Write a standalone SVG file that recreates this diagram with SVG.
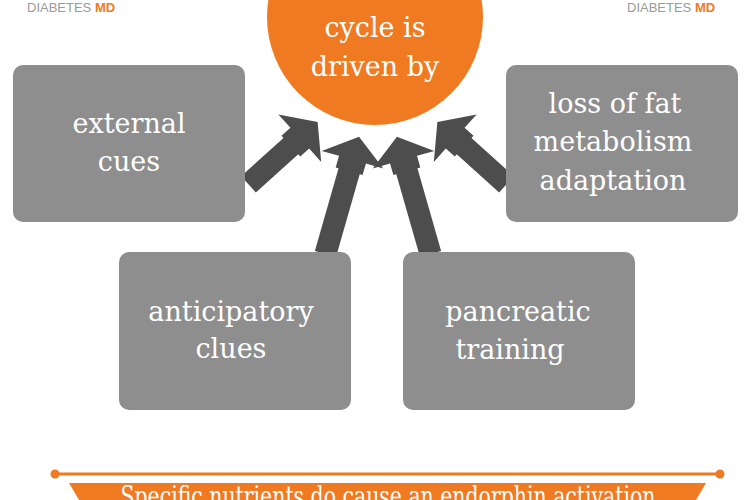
<svg xmlns="http://www.w3.org/2000/svg" width="748" height="500" viewBox="0 0 748 500">
<defs>
<style>
.box{fill:#8e8e8e}
.t{font-family:"DejaVu Serif","Liberation Serif",serif;font-size:27px;fill:#fff;text-anchor:middle}
.logo{font-family:"Liberation Sans",Arial,sans-serif;font-size:13px;fill:#9a9a9a}
.md{fill:#f07a22;font-weight:bold}
.arr{fill:#4d4d4d}
</style>
<polygon id="ah" points="-14,0 -14,-12 -32,-12 0,-36 32,-12 14,-12 14,0"/>
</defs>
<rect width="748" height="500" fill="#fff"/>
<text class="logo" x="27" y="12">DIABETES <tspan class="md">MD</tspan></text>
<text class="logo" x="627" y="12">DIABETES <tspan class="md">MD</tspan></text>
<g id="center">
<circle cx="375" cy="17" r="108" fill="#f07a22"/>
<text class="t" x="375" y="37" font-size="29">cycle is</text>
<text class="t" x="375" y="76" font-size="29">driven by</text>
</g>
<g id="connectors" class="arr">
<g transform="translate(250,183) rotate(48)"><rect x="-11" y="-58" width="22" height="60"/><use href="#ah" transform="translate(0,-55)"/></g>
<g transform="translate(326,252) rotate(16)"><rect x="-11" y="-86" width="22" height="88"/><use href="#ah" transform="translate(0,-84)"/></g>
<g transform="translate(430,252) rotate(-16)"><rect x="-11" y="-86" width="22" height="88"/><use href="#ah" transform="translate(0,-84)"/></g>
<g transform="translate(505,183) rotate(-48)"><rect x="-11" y="-58" width="22" height="60"/><use href="#ah" transform="translate(0,-55)"/></g>
</g>
<g id="external"><rect class="box" x="13" y="65" width="232" height="157" rx="10"/>
<text class="t" x="129" y="133">external</text><text class="t" x="129" y="171">cues</text></g>
<g id="loss"><rect class="box" x="506" y="65" width="232" height="157" rx="10"/>
<text class="t" x="615" y="113">loss of fat</text><text class="t" x="613" y="151">metabolism</text><text class="t" x="613" y="190">adaptation</text></g>
<g id="anticipatory"><rect class="box" x="119" y="252" width="232" height="158" rx="10"/>
<text class="t" x="231" y="321">anticipatory</text><text class="t" x="231" y="358">clues</text></g>
<g id="pancreatic"><rect class="box" x="403" y="252" width="232" height="158" rx="10"/>
<text class="t" x="518" y="321">pancreatic</text><text class="t" x="510" y="359">training</text></g>
<g id="banner">
<line x1="55" y1="474" x2="720" y2="474" stroke="#f07a22" stroke-width="3"/>
<circle cx="55" cy="474" r="4.5" fill="#f07a22"/><circle cx="720" cy="474" r="4.5" fill="#f07a22"/>
<polygon points="69,483 706,483 690,510 85,510" fill="#f07a22"/>
<text class="t" x="388" y="506" font-size="22" textLength="535" lengthAdjust="spacingAndGlyphs">Specific nutrients do cause an endorphin activation</text>
</g>
</svg>
